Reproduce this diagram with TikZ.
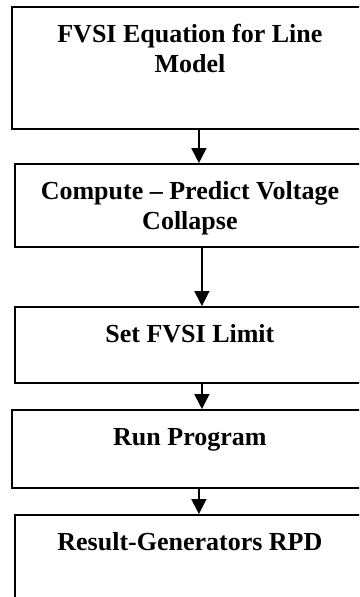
\documentclass[tikz,border=0pt]{standalone}
\usepackage{fontspec}
\setmainfont{Liberation Serif}
\usetikzlibrary{arrows.meta}
\newcommand{\stagetext}[3]{\parbox[c][#1][t]{#2}{\centering\rule{0pt}{36pt}#3}}

\begin{document}
\begin{tikzpicture}[x=1pt,y=-1pt,every node/.style={draw,line width=1.8pt,inner sep=0pt,anchor=north west,font=\fontsize{26}{30}\selectfont\bfseries}, flow/.style={line width=1.8pt,-{Triangle[width=15pt,length=15pt]}}]
  \clip (0,0) rectangle (359,597);
  \node (fvsi) at (11,6) {\stagetext{122pt}{356pt}{FVSI Equation for Line\\Model}};
  \node (predict) at (14,163) {\stagetext{83pt}{350pt}{Compute – Predict Voltage\\Collapse}};
  \node (limit) at (14,306) {\stagetext{76pt}{350pt}{Set FVSI Limit}};
  \node (run) at (11,409) {\stagetext{78pt}{356pt}{Run Program}};
  \node (result) at (14,514) {\stagetext{110pt}{350pt}{Result-Generators RPD}};
  \draw[flow] ([xshift=9pt]fvsi.south) -- ([xshift=9pt]predict.north);
  \draw[flow] ([xshift=12pt]predict.south) -- ([xshift=12pt]limit.north);
  \draw[flow] ([xshift=12pt]limit.south) -- ([xshift=12pt]run.north);
  \draw[flow] ([xshift=9pt]run.south) -- ([xshift=9pt]result.north);
\end{tikzpicture}
\end{document}
